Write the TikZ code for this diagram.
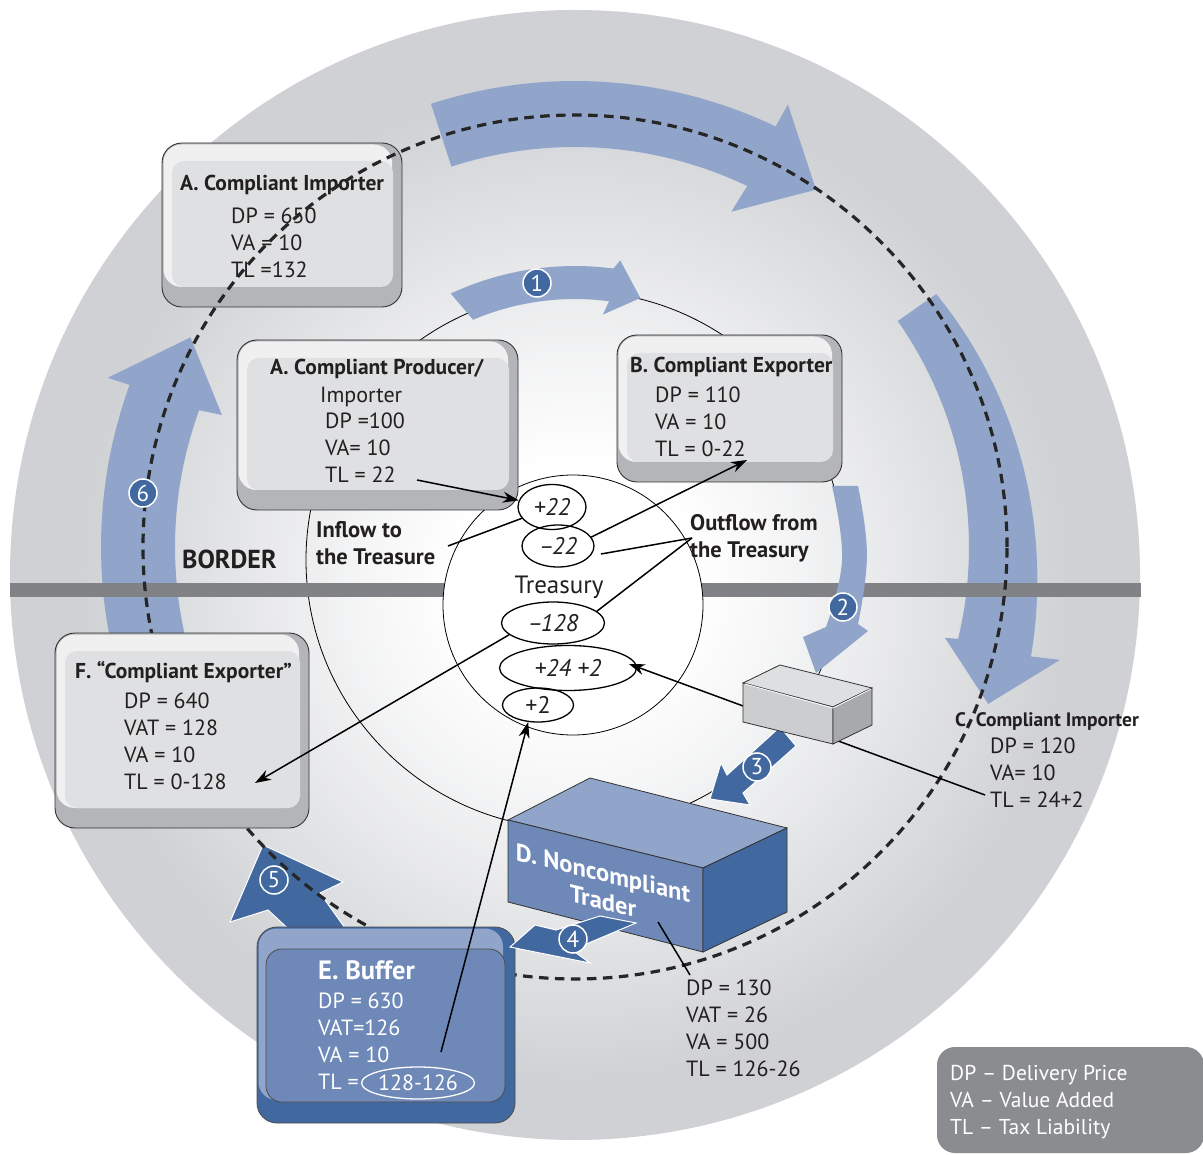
\documentclass[tikz,border=0pt]{standalone}
\usepackage{fontspec}
\setmainfont{PT Sans}
\usetikzlibrary{arrows.meta,shapes.geometric}
\definecolor{discgray}{RGB}{207,209,212}
\definecolor{lblue}{RGB}{145,165,203}
\definecolor{mblue}{RGB}{110,136,184}
\definecolor{dblue}{RGB}{66,104,160}
\definecolor{bargray}{RGB}{128,130,133}
\definecolor{boxface}{RGB}{223,224,226}
\definecolor{boxlight}{RGB}{240,240,241}
\definecolor{boxdark}{RGB}{180,181,184}
\definecolor{txt}{RGB}{35,31,32}
\definecolor{leggray}{RGB}{138,140,143}
\definecolor{cbtop}{RGB}{222,223,225}
\definecolor{cbfront}{RGB}{204,205,207}
\definecolor{cbright}{RGB}{168,169,172}
\newcommand\fs[1]{\fontsize{#1}{27}\selectfont}
\newcommand\bevelbox[4]{%
  \draw[line width=0.9pt, draw=black!80, fill=boxdark, rounded corners=20pt] (#1,#2) rectangle (#3,#4);
  \fill[boxlight, rounded corners=18pt] (#1+1.5,#2+1.5) rectangle (#3-10,#4-20);
  \fill[boxface, rounded corners=12pt] (#1+10,#2+18) rectangle (#3-9,#4-20);
}
\tikzset{
  body/.style={anchor=north west, inner sep=0pt, align=left, text=txt, font=\fs{22}},
  headtxt/.style={anchor=north west, inner sep=0pt, align=left, text=txt, font=\bfseries\fs{21.5}},
  numc/.style={circle, fill=dblue, draw=white, line width=1.5pt, text=white, minimum size=28pt, inner sep=0pt, font=\fs{23}},
  oval/.style={ellipse, draw=black, line width=1.3pt, inner sep=0pt, text=txt, font=\itshape\fs{24}},
  conn/.style={line width=1.5pt, draw=black},
  arr/.style={conn, -{Stealth[length=16pt,width=11pt]}},
  lightarrow/.style={fill=lblue},
  darkarrow/.style={fill=dblue, draw=white, line width=1pt},
  dtext/.style={inner sep=0pt, text=white, align=center, font=\bfseries\fontsize{24.5}{28}\selectfont},
}
\begin{document}
\begin{tikzpicture}[x=1pt,y=-1pt]
\useasboundingbox (0,0) rectangle (1203,1155);
\fill[white] (0,0) rectangle (1203,1155);
% disc with radial gradient
\fill[discgray] (575,575) circle[radius=565pt];
\foreach \i in {0,...,63} {
  \pgfmathsetmacro\r{500-\i*6}
  \pgfmathsetmacro\p{100*((1-\i/63)^1.1)}
  \fill[discgray!\p!white] (575,585) circle[radius=\r pt];
}
% middle circle
\draw[line width=0.8pt, black] (575,560) circle[radius=269pt];
% big light arrows
\fill[lightarrow, shift={(575,547)}] plot[domain=-108:-64.5, samples=50] (\x:466) -- (-64.3:491) -- (-56:431) -- (-65:370) -- (-64.5:400) -- plot[domain=-64.5:-108, samples=50] (\x:400) -- cycle;
\fill[lightarrow, shift={(575,547)}] plot[domain=-35:13.5, samples=50] (\x:{441+28*(\x+35)/48.5}) -- (13.1:498) -- (20.8:442) -- (13.8:381) -- (13.5:393) -- plot[domain=13.5:-35, samples=50] (\x:394) -- cycle;
\fill[lightarrow, shift={(575,547)}] plot[domain=165:200, samples=40] (\x:474) -- (199.9:497) -- (208.6:438) -- (200.5:377) -- (200:400) -- plot[domain=200:165, samples=40] (\x:400) -- cycle;
\fill[lightarrow, shift={(575,560)}] plot[domain=-115:-82.5, samples=40] (\x:294) -- (-81.4:303) -- (-76:270) -- (-83.5:247) -- (-82.5:261) -- plot[domain=-82.5:-113, samples=40] (\x:261) -- cycle;
% border bar
\fill[bargray] (10,583) rectangle (1141,597);
% arrow 5
\fill[darkarrow] (263,845) -- (343,882) -- (320,893) -- (350,935) -- (295,935) -- (268,910) -- (230,922) -- cycle;
% box A importer
\bevelbox{162}{143}{402}{307}
\node[headtxt] (haimp) at (180,175) {A. Compliant Importer};
\node[body] (baimp) at (231,208) {DP = 650\\VA = 10\\TL =132};
% dashed circle
\draw[line width=3.2pt, black!85, dash pattern=on 9.5pt off 6.5pt] (575,547) circle[radius=432pt];
% treasury circle
\draw[line width=0.8pt, fill=white] (573,605) circle[radius=130pt];
% boxes
\bevelbox{237}{340}{518}{510}
\node[headtxt] (hprod) at (270,359) {A. Compliant Producer/};
\node[body] (iprod) at (320,387) {Importer};
\node[body] (bprod) at (325,413) {DP =100\\VA= 10\\TL = 22};
\bevelbox{617}{335}{842}{482}
\node[headtxt] (hb) at (630,357) {B. Compliant Exporter};
\node[body] (bb) at (655,387) {DP = 110\\VA = 10\\TL = 0-22};
\bevelbox{55}{633}{309}{828}
\node[headtxt] (hf) at (75,661) {F. “Compliant Exporter”};
\node[body] (bf) at (124,693) {DP = 640\\VAT = 128\\VA = 10\\TL = 0-128};
% treasury ovals
\node[oval, minimum width=68pt, minimum height=45pt] (e22) at (552,507) {+22};
\node[oval, minimum width=72pt, minimum height=42pt] (em22) at (558,546) {–\kern-2pt22};
\node[inner sep=0pt, text=txt, font=\fs{25}] (treas) at (559,587) {Treasury};
\node[oval, minimum width=103pt, minimum height=42pt] (em128) at (553,623) {–\kern-2pt128};
\node[oval, minimum width=137pt, minimum height=45pt] (e242) at (568,668) {+24 +2};
\node[oval, minimum width=71pt, minimum height=34pt, font=\fs{24}] (e2) at (538,705) {+2};
% line from C to +24+2 (under small box)
\coordinate (pC) at (985,795);
\coordinate (tipC) at (629,664);
\draw[arr] (pC) -- (tipC);
% arrow 2
\fill[lightarrow] plot[smooth, tension=0.7] coordinates {(858,486) (867,555) (858,624)} -- (868,631) -- (816,673) -- (803,637) -- plot[smooth, tension=0.7] coordinates {(826,627) (842,560) (832,486)} -- cycle;
% arrow 3
\fill[darkarrow] (780,727) -- (796,746) -- (743,793) -- (750,805) -- (710,799) -- (721,763) -- (727,775) -- cycle;
% small box
\filldraw[fill=cbtop, draw=black!80, line width=0.8pt] (780,665) -- (872,688) -- (833,707) -- (743,683) -- cycle;
\filldraw[fill=cbfront, draw=black!80, line width=0.8pt] (743,683) -- (833,707) -- (833,744) -- (743,722) -- cycle;
\filldraw[fill=cbright, draw=black!80, line width=0.8pt] (833,707) -- (872,688) -- (872,725) -- (833,744) -- cycle;
\draw[white, line width=0.8pt] (745,684) -- (833,708) -- (871,689);
% D box
\filldraw[fill=lblue, draw=black!80, line width=0.8pt] (590,778) -- (787,828) -- (703,868) -- (508,820) -- cycle;
\filldraw[fill=mblue, draw=black!80, line width=0.8pt] (508,820) -- (703,868) -- (703,952) -- (508,902) -- cycle;
\filldraw[fill=dblue, draw=black!80, line width=0.8pt] (703,868) -- (787,828) -- (787,912) -- (703,952) -- cycle;
\node[dtext, yslant=-0.2456] (dt) at (603,887) {D. Noncompliant\\Trader};
% E box
\draw[draw=black!70, line width=0.8pt, fill=dblue, rounded corners=20pt] (257,927) rectangle (515,1123);
\fill[lblue, rounded corners=18pt] (258.5,928.5) rectangle (503,1100);
\draw[draw=black!70, line width=0.8pt, fill=mblue, rounded corners=16pt] (266,949) rectangle (505,1102);
\node[headtxt, text=white, font=\bfseries\fs{26.5}] (he) at (318,960) {E. Buffer};
\node[body, text=white] (be) at (318,993) {DP = 630\\VAT=126\\VA = 10\\TL =};
\node[ellipse, draw=white, line width=1.3pt, text=white, font=\fs{22}, minimum width=100pt, minimum height=32pt, inner sep=0pt] (etl) at (418,1083) {128-126};
% arrow 4
\fill[darkarrow] (600,916) -- (636,923) -- (572,950) -- (590,963) -- (510,947) -- (535,925) -- (556,930) -- cycle;
% number circles
\node[numc] (n1) at (537,283) {1};
\node[numc] (n2) at (843,607) {2};
\node[numc] (n3) at (757,767) {3};
\node[numc] (n4) at (573,939) {4};
\node[numc] (n5) at (274,880) {5};
\node[numc] (n6) at (143,493) {6};
% labels
\node[headtxt, font=\bfseries\fs{26}] (border) at (182,550) {BORDER};
\node[headtxt, font=\bfseries\fs{22.5}] (inflow) at (316,521) {Inflow to\\the Treasure};
\node[headtxt, font=\bfseries\fs{22.5}] (outflow) at (690,514) {Outflow from\\the Treasury};
\node[headtxt, font=\bfseries\fs{19.5}] (hc) at (955,712) {C. Compliant Importer};
\node[body] (bc) at (990,738) {DP = 120\\VA= 10\\TL = 24+2};
\node[body] (bd) at (686,980) {DP = 130\\VAT = 26\\VA = 500\\TL = 126-26};
% legend
\fill[leggray, rounded corners=18pt] (937,1047) rectangle (1204,1153);
\node[body, text=white, font=\fs{21.5}] (legend) at (950,1065) {DP – Delivery Price\\VA – Value Added\\TL – Tax Liability};
% connectors
\coordinate (p22) at (417,480);
\draw[arr] (p22) -- (e22);
\coordinate (pin) at (448,546);
\draw[conn] (pin) -- (e22);
\coordinate (pB) at (747,460);
\draw[arr] (em22.15) -- (pB);
\coordinate (pout) at (692,538);
\coordinate (po1) at (601,554);
\draw[conn] (po1) -- (pout);
\draw[conn] (em128.15) -- (pout);
\coordinate (pF) at (255,783);
\draw[arr] (em128.195) -- (pF);
\coordinate (pE) at (441,1052);
\draw[arr] (pE) -- (e2.240);
\coordinate (pD1) at (658,922);
\coordinate (pD2) at (690,975);
\draw[conn] (pD1) -- (pD2);
\end{tikzpicture}
\end{document}
